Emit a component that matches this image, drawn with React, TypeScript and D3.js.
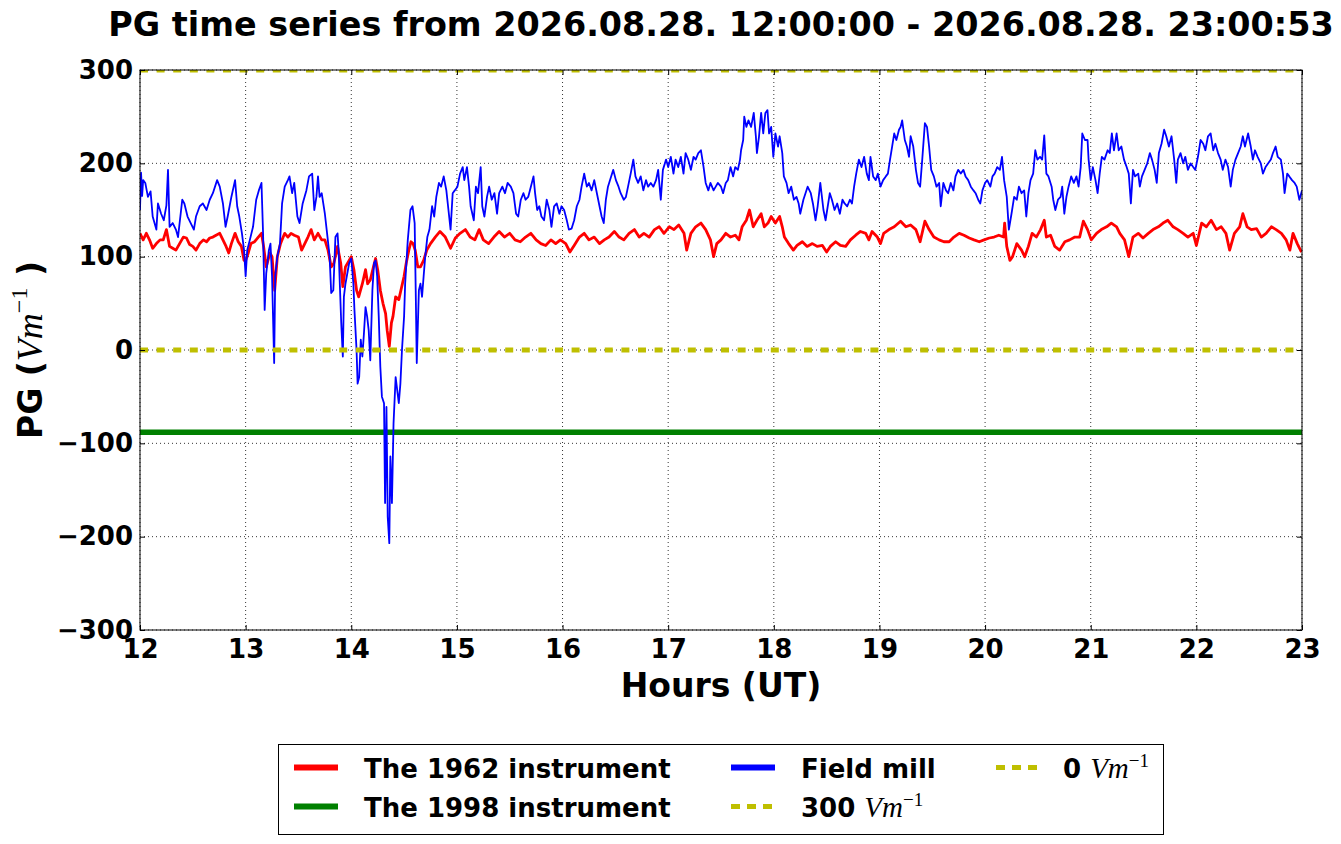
import React, { useEffect, useRef } from 'react';
import * as d3 from 'd3';

type Pt = [number, number];

const titleText = 'PG time series from 2026.08.28. 12:00:00 - 2026.08.28. 23:00:53';
const hourTicks = [12, 13, 14, 15, 16, 17, 18, 19, 20, 21, 22, 23];
const pgTicks = [-300, -200, -100, 0, 100, 200, 300];
const refLevels = [300, 0];

// the 1962 instrument (red), hours UT vs V/m
const instrument1962: Pt[] = [
  [12.0, 125], [12.03, 118], [12.06, 125], [12.09, 118], [12.12, 109], [12.155, 114], [12.19, 118], [12.22, 118],
  [12.25, 129], [12.28, 111], [12.31, 109], [12.34, 107], [12.375, 114], [12.41, 121], [12.44, 120], [12.47, 113],
  [12.5, 111], [12.53, 107], [12.565, 114], [12.6, 118], [12.63, 116], [12.66, 120], [12.69, 121], [12.72, 123],
  [12.755, 125], [12.785, 118], [12.815, 111], [12.84, 104], [12.865, 114], [12.9, 125], [12.93, 116], [12.96, 111],
  [12.985, 96], [13.0, 96], [13.025, 104], [13.05, 114], [13.085, 116], [13.12, 121], [13.15, 125], [13.17, 111],
  [13.195, 89], [13.23, 104], [13.25, 100], [13.275, 64], [13.3, 100], [13.33, 114], [13.37, 125], [13.4, 121],
  [13.43, 125], [13.46, 123], [13.5, 121], [13.53, 107], [13.56, 114], [13.59, 121], [13.62, 129], [13.65, 118],
  [13.685, 125], [13.72, 118], [13.75, 118], [13.78, 107], [13.81, 89], [13.835, 93], [13.87, 111], [13.9, 93],
  [13.92, 68], [13.945, 89], [13.98, 96], [14.0, 100], [14.025, 86], [14.05, 64], [14.07, 57], [14.105, 71],
  [14.135, 86], [14.155, 71], [14.18, 75], [14.21, 89], [14.23, 98], [14.25, 86], [14.275, 64], [14.3, 50],
  [14.325, 39], [14.34, 21], [14.36, 4], [14.38, 29], [14.395, 36], [14.42, 57], [14.45, 54], [14.47, 64],
  [14.5, 79], [14.52, 93], [14.545, 107], [14.565, 116], [14.585, 114], [14.605, 107], [14.63, 89], [14.655, 89],
  [14.685, 96], [14.715, 107], [14.75, 114], [14.795, 121], [14.84, 127], [14.89, 121], [14.94, 109], [14.985, 120],
  [15.03, 125], [15.08, 129], [15.125, 121], [15.17, 118], [15.21, 129], [15.25, 118], [15.3, 114], [15.35, 121],
  [15.4, 127], [15.45, 121], [15.5, 125], [15.55, 118], [15.6, 116], [15.65, 121], [15.7, 125], [15.75, 118],
  [15.795, 114], [15.84, 112], [15.89, 118], [15.935, 114], [15.98, 118], [16.03, 114], [16.07, 105], [16.11, 112],
  [16.16, 121], [16.205, 125], [16.25, 118], [16.3, 121], [16.35, 114], [16.395, 118], [16.44, 121], [16.49, 127],
  [16.535, 121], [16.58, 118], [16.63, 125], [16.68, 129], [16.725, 121], [16.77, 125], [16.82, 121], [16.87, 129],
  [16.915, 132], [16.96, 125], [17.01, 132], [17.055, 129], [17.1, 134], [17.15, 125], [17.175, 107], [17.215, 125],
  [17.26, 132], [17.31, 136], [17.355, 129], [17.4, 118], [17.43, 100], [17.46, 114], [17.5, 118], [17.545, 125],
  [17.59, 121], [17.635, 123], [17.67, 118], [17.7, 132], [17.74, 139], [17.77, 150], [17.805, 132], [17.84, 139],
  [17.88, 146], [17.91, 132], [17.945, 136], [17.975, 143], [18.015, 136], [18.055, 143], [18.08, 132], [18.1, 121],
  [18.14, 114], [18.185, 107], [18.22, 112], [18.27, 116], [18.315, 111], [18.365, 114], [18.41, 111], [18.46, 112],
  [18.5, 105], [18.535, 111], [18.585, 116], [18.63, 112], [18.68, 111], [18.725, 118], [18.775, 123], [18.82, 127],
  [18.87, 125], [18.9, 118], [18.93, 127], [18.98, 121], [19.01, 114], [19.04, 125], [19.09, 129], [19.14, 132],
  [19.2, 138], [19.25, 132], [19.295, 134], [19.345, 129], [19.385, 116], [19.43, 138], [19.47, 129], [19.515, 121],
  [19.565, 118], [19.61, 116], [19.66, 116], [19.705, 121], [19.755, 125], [19.8, 123], [19.85, 120], [19.895, 118],
  [19.945, 116], [19.99, 118], [20.04, 120], [20.085, 121], [20.13, 123], [20.175, 121], [20.185, 136], [20.205, 111],
  [20.235, 96], [20.26, 100], [20.3, 114], [20.345, 107], [20.375, 100], [20.41, 111], [20.445, 125], [20.485, 121],
  [20.525, 129], [20.56, 139], [20.58, 121], [20.62, 123], [20.66, 111], [20.705, 107], [20.755, 116], [20.8, 118],
  [20.85, 121], [20.895, 121], [20.93, 138], [20.97, 129], [21.005, 118], [21.055, 125], [21.1, 129], [21.15, 132],
  [21.195, 136], [21.245, 132], [21.275, 125], [21.32, 118], [21.36, 100], [21.4, 121], [21.45, 125], [21.495, 120],
  [21.545, 125], [21.59, 129], [21.64, 132], [21.685, 136], [21.73, 139], [21.78, 132], [21.825, 129], [21.875, 125],
  [21.92, 121], [21.97, 125], [22.0, 112], [22.05, 136], [22.095, 132], [22.14, 139], [22.19, 129], [22.235, 132],
  [22.28, 125], [22.315, 107], [22.36, 125], [22.41, 132], [22.44, 146], [22.48, 132], [22.52, 129], [22.57, 130],
  [22.615, 121], [22.66, 125], [22.71, 132], [22.755, 129], [22.805, 125], [22.85, 118], [22.885, 107], [22.915, 125],
  [22.955, 114], [22.995, 105],
];

// the 1998 instrument (green) sat flat the whole window
const instrument1998: Pt[] = [[12.0, -88], [23.0, -88]];

// field mill (blue)
const fieldMill: Pt[] = [
  [12.0, 150], [12.01, 190], [12.02, 165], [12.03, 182], [12.05, 179], [12.075, 164], [12.1, 170], [12.12, 143],
  [12.155, 129], [12.17, 157], [12.2, 146], [12.225, 139], [12.25, 155], [12.265, 193], [12.28, 132], [12.31, 136],
  [12.34, 129], [12.36, 121], [12.4, 161], [12.42, 157], [12.45, 143], [12.48, 136], [12.51, 129], [12.53, 143],
  [12.565, 154], [12.595, 157], [12.63, 150], [12.66, 161], [12.69, 168], [12.73, 182], [12.755, 175], [12.785, 157],
  [12.81, 132], [12.83, 143], [12.865, 164], [12.9, 182], [12.92, 154], [12.94, 143], [12.965, 125], [12.985, 107],
  [13.0, 79], [13.015, 107], [13.04, 118], [13.07, 132], [13.1, 161], [13.125, 171], [13.15, 179], [13.165, 125],
  [13.18, 43], [13.195, 82], [13.22, 107], [13.235, 114], [13.25, 79], [13.27, -14], [13.28, 79], [13.3, 100],
  [13.325, 114], [13.345, 157], [13.37, 175], [13.4, 182], [13.415, 186], [13.44, 168], [13.46, 179], [13.49, 143],
  [13.51, 136], [13.54, 157], [13.575, 171], [13.6, 186], [13.63, 189], [13.65, 150], [13.67, 164], [13.685, 186],
  [13.7, 164], [13.72, 168], [13.75, 146], [13.775, 121], [13.795, 100], [13.81, 61], [13.83, 64], [13.85, 121],
  [13.87, 125], [13.88, 107], [13.905, 29], [13.92, -7], [13.93, 57], [13.945, 71], [13.98, 93], [14.0, 98],
  [14.02, 71], [14.03, 43], [14.05, 0], [14.06, -36], [14.075, -29], [14.09, 11], [14.105, -7], [14.12, 18],
  [14.135, 46], [14.15, 36], [14.165, 21], [14.18, -11], [14.2, 64], [14.215, 93], [14.23, 96], [14.245, 79],
  [14.26, 36], [14.275, -18], [14.29, -50], [14.31, -57], [14.32, -164], [14.333, -61], [14.345, -179], [14.36, -207],
  [14.37, -114], [14.385, -164], [14.4, -79], [14.42, -29], [14.435, -43], [14.45, -57], [14.465, -36], [14.48, 0],
  [14.5, 36], [14.51, 71], [14.535, 118], [14.56, 150], [14.58, 154], [14.6, 136], [14.61, 64], [14.62, -14],
  [14.64, 64], [14.655, 71], [14.67, 57], [14.685, 79], [14.7, 100], [14.72, 121], [14.74, 129], [14.765, 154],
  [14.785, 143], [14.805, 164], [14.83, 179], [14.85, 175], [14.875, 186], [14.9, 171], [14.92, 150], [14.94, 129],
  [14.96, 168], [14.98, 171], [15.005, 175], [15.03, 189], [15.055, 196], [15.07, 182], [15.095, 196], [15.115, 175],
  [15.13, 154], [15.16, 139], [15.18, 175], [15.2, 168], [15.225, 196], [15.24, 154], [15.26, 143], [15.285, 164],
  [15.305, 175], [15.33, 161], [15.355, 168], [15.38, 146], [15.4, 168], [15.43, 175], [15.455, 168], [15.48, 179],
  [15.51, 175], [15.535, 168], [15.56, 146], [15.58, 143], [15.605, 161], [15.63, 168], [15.65, 161], [15.675, 164],
  [15.7, 175], [15.725, 186], [15.74, 168], [15.76, 150], [15.78, 154], [15.8, 143], [15.825, 139], [15.85, 161],
  [15.875, 150], [15.895, 132], [15.92, 154], [15.945, 157], [15.97, 146], [15.99, 154], [16.015, 150], [16.04, 139],
  [16.06, 129], [16.085, 130], [16.11, 139], [16.135, 154], [16.16, 161], [16.18, 175], [16.205, 189], [16.23, 175],
  [16.25, 179], [16.275, 171], [16.3, 182], [16.325, 168], [16.35, 154], [16.37, 143], [16.39, 136], [16.41, 161],
  [16.43, 175], [16.46, 186], [16.48, 193], [16.505, 182], [16.53, 175], [16.55, 168], [16.58, 161], [16.6, 164],
  [16.62, 175], [16.645, 189], [16.67, 204], [16.69, 186], [16.715, 179], [16.74, 186], [16.765, 171], [16.79, 182],
  [16.81, 175], [16.835, 179], [16.86, 175], [16.885, 182], [16.905, 193], [16.93, 161], [16.95, 193], [16.98, 204],
  [17.0, 196], [17.025, 207], [17.05, 189], [17.07, 204], [17.095, 196], [17.12, 207], [17.145, 189], [17.165, 211],
  [17.19, 204], [17.215, 193], [17.24, 207], [17.26, 204], [17.285, 211], [17.31, 214], [17.335, 196], [17.355, 179],
  [17.38, 171], [17.4, 179], [17.43, 171], [17.45, 175], [17.47, 179], [17.5, 175], [17.52, 168], [17.545, 179],
  [17.565, 182], [17.59, 196], [17.615, 186], [17.635, 196], [17.66, 193], [17.68, 204], [17.69, 214], [17.71, 225],
  [17.72, 250], [17.74, 239], [17.76, 246], [17.785, 239], [17.81, 254], [17.83, 229], [17.84, 211], [17.86, 229],
  [17.88, 254], [17.9, 232], [17.92, 254], [17.94, 257], [17.955, 232], [17.975, 239], [17.995, 207], [18.015, 232],
  [18.04, 218], [18.055, 229], [18.08, 211], [18.095, 186], [18.12, 179], [18.14, 168], [18.165, 175], [18.19, 161],
  [18.215, 164], [18.235, 157], [18.25, 146], [18.28, 161], [18.3, 168], [18.32, 175], [18.35, 168], [18.37, 157],
  [18.395, 139], [18.415, 154], [18.44, 179], [18.47, 150], [18.49, 139], [18.505, 150], [18.53, 168], [18.55, 161],
  [18.575, 150], [18.6, 157], [18.625, 146], [18.65, 161], [18.67, 157], [18.695, 154], [18.72, 161], [18.74, 157],
  [18.76, 175], [18.78, 189], [18.805, 204], [18.83, 196], [18.855, 207], [18.88, 189], [18.9, 182], [18.915, 207],
  [18.94, 186], [18.965, 182], [18.985, 189], [19.01, 175], [19.035, 182], [19.06, 186], [19.08, 189], [19.1, 204],
  [19.12, 218], [19.14, 232], [19.16, 225], [19.185, 236], [19.2, 239], [19.215, 246], [19.24, 225], [19.26, 218],
  [19.28, 207], [19.295, 229], [19.32, 218], [19.345, 193], [19.365, 179], [19.385, 175], [19.405, 204], [19.43, 243],
  [19.45, 239], [19.47, 218], [19.49, 193], [19.515, 186], [19.54, 175], [19.565, 179], [19.58, 154], [19.605, 179],
  [19.63, 171], [19.65, 168], [19.675, 179], [19.7, 171], [19.72, 186], [19.745, 193], [19.77, 189], [19.795, 193],
  [19.815, 186], [19.84, 182], [19.865, 175], [19.89, 171], [19.91, 168], [19.935, 161], [19.955, 157], [19.975, 171],
  [20.0, 179], [20.02, 182], [20.05, 175], [20.07, 186], [20.09, 189], [20.115, 196], [20.14, 193], [20.16, 207],
  [20.18, 182], [20.205, 164], [20.225, 129], [20.25, 146], [20.275, 164], [20.3, 161], [20.32, 175], [20.345, 168],
  [20.37, 171], [20.39, 143], [20.41, 168], [20.43, 182], [20.455, 189], [20.475, 214], [20.495, 204], [20.52, 207],
  [20.54, 204], [20.56, 230], [20.58, 189], [20.6, 186], [20.63, 175], [20.645, 161], [20.665, 150], [20.69, 161],
  [20.715, 164], [20.73, 175], [20.75, 146], [20.77, 164], [20.79, 175], [20.815, 186], [20.84, 179], [20.865, 186],
  [20.885, 175], [20.905, 196], [20.92, 232], [20.945, 225], [20.97, 225], [20.98, 204], [21.0, 182], [21.02, 196],
  [21.045, 182], [21.065, 168], [21.085, 189], [21.105, 207], [21.13, 204], [21.16, 214], [21.18, 211], [21.2, 232],
  [21.22, 214], [21.245, 232], [21.265, 214], [21.29, 218], [21.315, 204], [21.34, 196], [21.36, 189], [21.38, 157],
  [21.4, 193], [21.42, 186], [21.45, 189], [21.465, 175], [21.485, 186], [21.51, 193], [21.535, 200], [21.56, 211],
  [21.58, 204], [21.605, 193], [21.625, 179], [21.645, 211], [21.67, 221], [21.695, 236], [21.715, 229], [21.74, 218],
  [21.765, 229], [21.79, 204], [21.81, 179], [21.825, 204], [21.85, 211], [21.875, 200], [21.895, 207], [21.92, 193],
  [21.945, 200], [21.97, 196], [21.99, 193], [22.015, 207], [22.04, 225], [22.065, 221], [22.085, 214], [22.11, 229],
  [22.135, 232], [22.16, 214], [22.18, 221], [22.205, 211], [22.23, 204], [22.25, 193], [22.275, 204], [22.3, 196],
  [22.325, 175], [22.345, 193], [22.37, 204], [22.395, 211], [22.42, 218], [22.44, 229], [22.46, 218], [22.49, 232],
  [22.515, 218], [22.535, 204], [22.555, 214], [22.58, 207], [22.61, 200], [22.63, 189], [22.655, 196], [22.68, 200],
  [22.705, 204], [22.725, 211], [22.75, 218], [22.77, 207], [22.8, 204], [22.82, 189], [22.835, 168], [22.86, 189],
  [22.88, 186], [22.905, 182], [22.93, 179], [22.95, 175], [22.975, 161], [23.0, 171],
];

const legendLabels = ['The 1962 instrument', 'The 1998 instrument', 'Field mill', '300', '0'];

const SANS = 'DejaVu Sans, sans-serif';
const SERIF = 'Liberation Serif, DejaVu Serif, serif';
const YELLOW = '#bfbf00';

export default function App() {
  const svgRef = useRef<SVGSVGElement>(null);

  useEffect(() => {
    const svg = d3.select(svgRef.current);
    svg.selectAll('*').remove();

    const left = 140, right = 1302, top = 70, bottom = 630;
    const x = d3.scaleLinear().domain([12, 23]).range([left, right]);
    const y = d3.scaleLinear().domain([-300, 300]).range([bottom, top]);

    svg.append('defs').append('clipPath').attr('id', 'plot-clip')
      .append('rect')
      .attr('x', left).attr('y', top)
      .attr('width', right - left).attr('height', bottom - top);

    // dotted grid
    const grid = svg.append('g').attr('stroke', '#000').attr('stroke-width', 0.8).attr('stroke-dasharray', '1,3');
    grid.selectAll('line.gx').data(hourTicks).join('line').attr('class', 'gx')
      .attr('x1', d => x(d)).attr('x2', d => x(d)).attr('y1', top).attr('y2', bottom);
    grid.selectAll('line.gy').data(pgTicks).join('line').attr('class', 'gy')
      .attr('x1', left).attr('x2', right).attr('y1', d => y(d)).attr('y2', d => y(d));

    const line = d3.line<Pt>().x(d => x(d[0])).y(d => y(d[1]));
    const plot = svg.append('g').attr('clip-path', 'url(#plot-clip)').attr('fill', 'none');

    plot.append('path').datum(instrument1962).attr('d', line)
      .attr('stroke', '#ff0000').attr('stroke-width', 2.8).attr('stroke-linejoin', 'round');
    plot.append('path').datum(instrument1998).attr('d', line)
      .attr('stroke', '#008000').attr('stroke-width', 5.5);
    plot.append('path').datum(fieldMill).attr('d', line)
      .attr('stroke', '#0000ff').attr('stroke-width', 1.8).attr('stroke-linejoin', 'round');

    refLevels.forEach(lvl => {
      plot.append('path').datum([[12, lvl], [23, lvl]] as Pt[]).attr('d', line)
        .attr('stroke', YELLOW).attr('stroke-width', 5).attr('stroke-dasharray', '8,8.6');
    });

    svg.append('rect')
      .attr('x', left).attr('y', top).attr('width', right - left).attr('height', bottom - top)
      .attr('fill', 'none').attr('stroke', '#000').attr('stroke-width', 1);

    const styleAxis = (g: d3.Selection<SVGGElement, unknown, null, undefined>) => {
      g.select('.domain').remove();
      g.attr('font-family', SANS).attr('font-size', 26).attr('font-weight', 'bold');
      g.selectAll('text').attr('fill', '#000');
    };

    svg.append('g').attr('transform', `translate(0,${bottom})`)
      .call(d3.axisBottom(x).tickValues(hourTicks).tickSize(-5).tickPadding(9.5).tickFormat(d3.format('d')))
      .call(styleAxis);
    svg.append('g').attr('transform', `translate(0,${top})`)
      .call(d3.axisTop(x).tickValues(hourTicks).tickSize(-5).tickFormat(() => ''))
      .call(styleAxis);
    svg.append('g').attr('transform', `translate(${left},0)`)
      .call(d3.axisLeft(y).tickValues(pgTicks).tickSize(-5).tickPadding(7).tickFormat(d3.format('d')))
      .call(styleAxis);
    svg.append('g').attr('transform', `translate(${right},0)`)
      .call(d3.axisRight(y).tickValues(pgTicks).tickSize(-5).tickFormat(() => ''))
      .call(styleAxis);

    svg.append('text')
      .attr('x', (left + right) / 2).attr('y', 36).attr('text-anchor', 'middle')
      .attr('font-family', SANS).attr('font-size', 33.4).attr('font-weight', 'bold')
      .text(titleText);

    svg.append('text')
      .attr('x', (left + right) / 2).attr('y', 697).attr('text-anchor', 'middle')
      .attr('font-family', SANS).attr('font-size', 33).attr('font-weight', 'bold')
      .text('Hours (UT)');

    // y label with math unit
    const yl = svg.append('text')
      .attr('transform', `translate(42,${(top + bottom) / 2}) rotate(-90)`)
      .attr('text-anchor', 'middle')
      .attr('font-family', SANS).attr('font-size', 33).attr('font-weight', 'bold');
    yl.append('tspan').text('PG (');
    yl.append('tspan').attr('font-family', SERIF).attr('font-style', 'italic').attr('font-weight', 'normal')
      .attr('font-size', 36).text('Vm');
    yl.append('tspan').attr('font-family', SERIF).attr('font-weight', 'normal').attr('font-size', 24)
      .attr('dy', -15).text('\u22121');
    yl.append('tspan').attr('dy', 15).text(' )');

    // legend
    const lg = svg.append('g');
    lg.append('rect').attr('x', 278.5).attr('y', 744.5).attr('width', 885).attr('height', 90)
      .attr('fill', '#fff').attr('stroke', '#000').attr('stroke-width', 1);

    const colX = [294, 731, 996];
    const rowY = [767.5, 806.5];
    const colors = ['#ff0000', '#008000', '#0000ff', YELLOW, YELLOW];
    legendLabels.forEach((label, i) => {
      const col = Math.floor(i / 2);
      const row = i % 2;
      const hx = colX[col];
      const hy = rowY[row];
      const dashed = i >= 3;
      lg.append('line')
        .attr('x1', hx).attr('x2', hx + 44).attr('y1', hy).attr('y2', hy)
        .attr('stroke', colors[i]).attr('stroke-width', dashed ? 5 : 6)
        .attr('stroke-dasharray', dashed ? '9,7' : null);
      const t = lg.append('text')
        .attr('x', hx + (col === 2 ? 67 : 70)).attr('y', hy + 10)
        .attr('font-family', SANS).attr('font-size', 26).attr('font-weight', 'bold');
      t.append('tspan').text(dashed ? label + ' ' : label);
      if (dashed) {
        t.append('tspan').attr('font-family', SERIF).attr('font-style', 'italic').attr('font-weight', 'normal')
          .attr('font-size', 29).text('Vm');
        t.append('tspan').attr('font-family', SERIF).attr('font-weight', 'normal').attr('font-size', 19)
          .attr('dy', -11).text('\u22121');
      }
    });
  }, []);

  return (
    <div style={{ position: 'absolute', left: 0, top: 0, background: '#fff' }}>
      <svg ref={svgRef} width={1341} height={844} style={{ display: 'block' }}></svg>
    </div>
  );
}
